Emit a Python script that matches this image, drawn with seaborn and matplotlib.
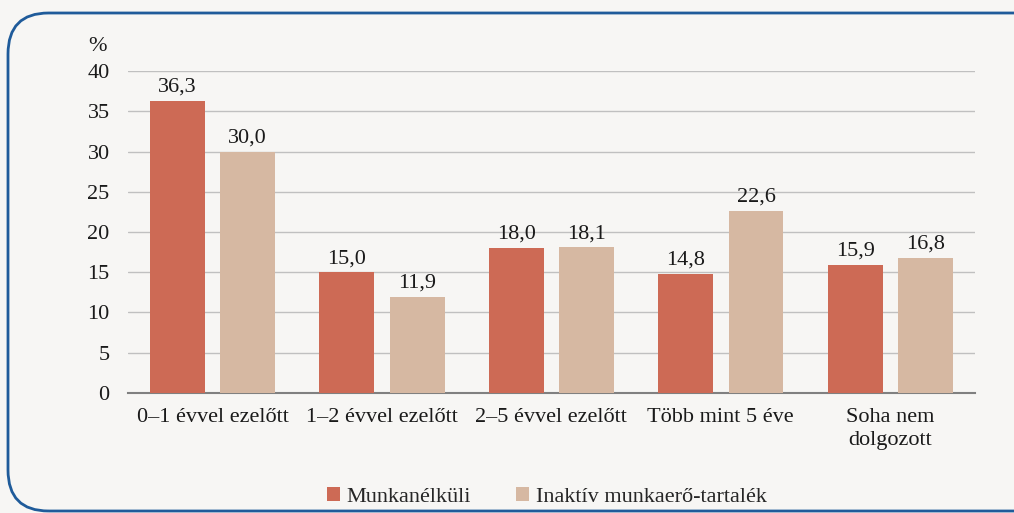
import pandas as pd
import matplotlib.pyplot as plt
import seaborn as sns
from matplotlib.patches import FancyBboxPatch

categories = ['0–1 évvel ezelőtt', '1–2 évvel ezelőtt', '2–5 évvel ezelőtt',
              'Több mint 5 éve', 'Soha nem\ndolgozott']
series = ['Munkanélküli', 'Inaktív munkaerő-tartalék']
munkanelkuli = [36.3, 15.0, 18.0, 14.8, 15.9]
inaktiv = [30.0, 11.9, 18.1, 22.6, 16.8]
yticks = [0, 5, 10, 15, 20, 25, 30, 35, 40]

df = pd.DataFrame({
    'kat': categories * 2,
    'sor': [series[0]] * 5 + [series[1]] * 5,
    'ertek': munkanelkuli + inaktiv,
})

sns.set_style('white')
plt.rcParams['font.family'] = 'serif'
plt.rcParams['font.serif'] = ['Liberation Serif', 'DejaVu Serif']
bg = '#F7F6F4'
fs = 16

fig = plt.figure(figsize=(10.14, 5.13), dpi=100, facecolor=bg)
ax = fig.add_axes([0.126, 0.234, 0.8355, 0.6274])
ax.set_facecolor(bg)

sns.barplot(data=df, x='kat', y='ertek', hue='sor', order=categories, hue_order=series,
            palette=['#CD6A55', '#D6B8A2'], width=0.83, gap=0.22, saturation=1,
            linewidth=0, ax=ax, zorder=3)

for cont in ax.containers:
    vals = [b.get_height() for b in cont]
    ax.bar_label(cont, labels=[f'{v:.1f}'.replace('.', ',') for v in vals],
                 padding=3, fontsize=fs, color='#1a1a1a')

ax.set_ylim(0, 40)
ax.set_xlim(-0.5, len(categories) - 0.5)
ax.set_yticks(yticks)
ax.yaxis.grid(True, color='#C0C0C0', linewidth=1, zorder=0)
ax.tick_params(axis='y', length=0, labelsize=fs, pad=13, colors='#1a1a1a')

ax.set_xticks([i - 0.5 for i in range(len(categories) + 1)], labels=[''] * (len(categories) + 1))
ax.set_xticks(range(len(categories)), labels=categories, minor=True)
ax.tick_params(axis='x', which='major', length=6, width=1.5, color='#808080', direction='out')
ax.tick_params(axis='x', which='minor', length=0, labelsize=fs, pad=11, colors='#1a1a1a')
for lab in ax.get_xticklabels(minor=True):
    lab.set_linespacing(1.3)

for s in ['top', 'right', 'left']:
    ax.spines[s].set_visible(False)
ax.spines['bottom'].set_color('#808080')
ax.spines['bottom'].set_linewidth(1.5)
ax.set_xlabel('')
ax.set_ylabel('')

fig.text(0.096, 0.91, '%', fontsize=fs, ha='center', va='center', color='#1a1a1a')

ax.legend(loc='center', bbox_to_anchor=(0.539, 0.032), bbox_transform=fig.transFigure,
          ncol=2, frameon=False, fontsize=fs, handlelength=0.6, handleheight=0.6,
          handletextpad=0.3, columnspacing=2.0)

box = FancyBboxPatch((8 / 1014, 2 / 513), 1.1, 498 / 513, transform=fig.transFigure,
                     boxstyle='round,pad=0,rounding_size=0.04', facecolor='none',
                     edgecolor='#1F5B9A', linewidth=2, mutation_aspect=2.0, clip_on=False)
fig.patches.append(box)

fig.savefig('out.png', dpi=100, facecolor=bg)
